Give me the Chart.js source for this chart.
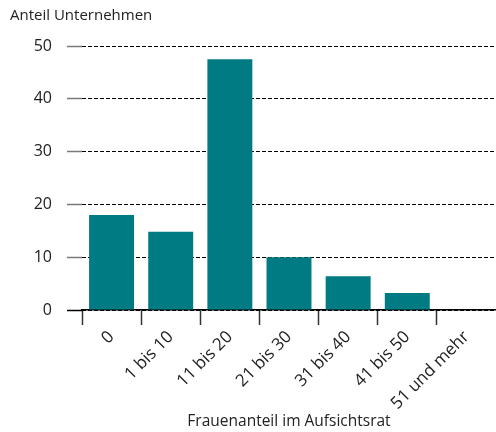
<!DOCTYPE html>
<html>
<head>
<meta charset="utf-8">
<script src="https://cdn.jsdelivr.net/npm/chart.js@4/dist/chart.umd.min.js"></script>
<style>
  body { margin: 0; background: #fff; }
  canvas { display: block; }
</style>
</head>
<body>
<canvas id="chart" width="496" height="432"></canvas>
<script>
// Frauenanteil im Aufsichtsrat (Kategorien) und Anteil Unternehmen
const categories = ['0', '1 bis 10', '11 bis 20', '21 bis 30', '31 bis 40', '41 bis 50', '51 und mehr'];
const shares = [18, 14.8, 47.5, 10, 6.4, 3.2, 0];
const yTicks = [0, 10, 20, 30, 40, 50];

const barColor = '#007a83';
const textColor = '#222';
const fontFamily = "'Open Sans', 'Noto Sans', sans-serif";

new Chart(document.getElementById('chart'), {
  type: 'bar',
  data: {
    labels: categories,
    datasets: [{
      data: shares,
      backgroundColor: barColor,
      borderWidth: 0,
      categoryPercentage: 1,
      barPercentage: 0.76
    }]
  },
  options: {
    responsive: false,
    animation: false,
    layout: { padding: { left: 10, right: 0, top: 0, bottom: 0 } },
    plugins: {
      legend: { display: false },
      tooltip: { enabled: false },
      title: {
        display: true,
        text: 'Anteil Unternehmen',
        align: 'start',
        color: textColor,
        font: { family: fontFamily, size: 15, weight: 'normal' },
        padding: { top: 7, bottom: 21 }
      }
    },
    scales: {
      x: {
        afterFit: scale => { scale.height = 122; },
        grid: {
          offset: true,
          drawOnChartArea: false,
          drawTicks: true,
          tickLength: 15,
          tickWidth: 1.5,
          tickColor: ctx => ctx.tick ? '#333' : 'rgba(0,0,0,0)'
        },
        border: { display: true, color: '#000', width: 1.5 },
        ticks: {
          color: textColor,
          font: { family: fontFamily, size: 17 },
          minRotation: 45,
          maxRotation: 45,
          padding: 2,
          autoSkip: false
        },
        title: {
          display: true,
          text: 'Frauenanteil im Aufsichtsrat',
          color: textColor,
          font: { family: fontFamily, size: 15.5 },
          padding: { top: 0, bottom: 1 }
        }
      },
      y: {
        min: 0,
        max: 50,
        afterFit: scale => { scale.width = 72; },
        afterBuildTicks: scale => { scale.ticks = yTicks.map(v => ({ value: v })); },
        grid: {
          color: '#000',
          lineWidth: 1,
          drawTicks: true,
          tickLength: 15,
          tickWidth: 1.5,
          tickColor: ctx => ctx.tick && ctx.tick.value === 0 ? '#000' : '#7a7a7a'
        },
        border: { display: false, dash: [4, 2] },
        ticks: {
          color: textColor,
          font: { family: fontFamily, size: 16 },
          padding: 15
        }
      }
    }
  }
});
</script>
</body>
</html>
